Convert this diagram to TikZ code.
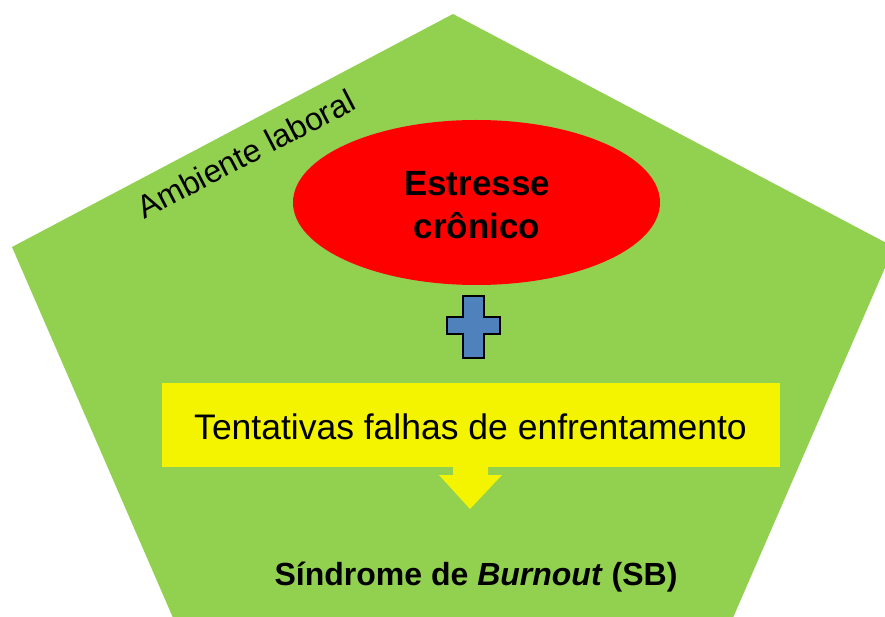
\documentclass[tikz,border=0pt]{standalone}
\usepackage{fontspec}
\setmainfont{Liberation Sans}
\usetikzlibrary{shapes.geometric}
\definecolor{pgreen}{RGB}{146,208,80}
\definecolor{pred}{RGB}{255,0,0}
\definecolor{pyellow}{RGB}{244,244,0}
\definecolor{pblue}{RGB}{79,129,189}
\tikzset{
  lbl/.style={inner sep=0pt, text=black},
}
\begin{document}
\begin{tikzpicture}[x=1pt,y=-1pt]
\useasboundingbox (0,0) rectangle (885,617);
\clip (0,0) rectangle (885,617);
% pentagon
\fill[pgreen] (453,14) -- (894,247) -- (719,650) -- (187,650) -- (12,247) -- cycle;
% ambient label
\node[lbl, rotate=27.5, anchor=base, font=\fontsize{32}{38}\selectfont] (amb) at (251,164) {Ambiente laboral};
% ellipse
\node[ellipse, fill=pred, minimum width=367pt, minimum height=165pt, inner sep=0pt] (stress) at (476.5,202.5) {};
\node[lbl, align=center, font=\fontsize{35}{43}\selectfont\bfseries] (stresstxt) at (477,205) {Estresse\\crônico};
% plus sign
\draw[fill=pblue, line width=2.4pt, line join=miter]
  (463,296) -- (484,296) -- (484,317) -- (500,317) -- (500,334) -- (484,334) -- (484,358)
  -- (463,358) -- (463,334) -- (447,334) -- (447,317) -- (463,317) -- cycle;
% yellow box
\node[fill=pyellow, minimum width=618pt, minimum height=84pt, inner sep=0pt] (cope) at (471,425) {};
\node[lbl, font=\fontsize{35.5}{42}\selectfont] (copetxt) at (470.5,427) {Tentativas falhas de enfrentamento};
% block arrow
\fill[pyellow] (453,465) -- (488,465) -- (488,475) -- (502,475) -- (470,509) -- (439,475) -- (453,475) -- cycle;
% result
\node[lbl, anchor=base, font=\fontsize{32}{38}\selectfont\bfseries] (sb) at (476,585) {Síndrome de \textit{Burnout} (SB)};
\end{tikzpicture}
\end{document}
